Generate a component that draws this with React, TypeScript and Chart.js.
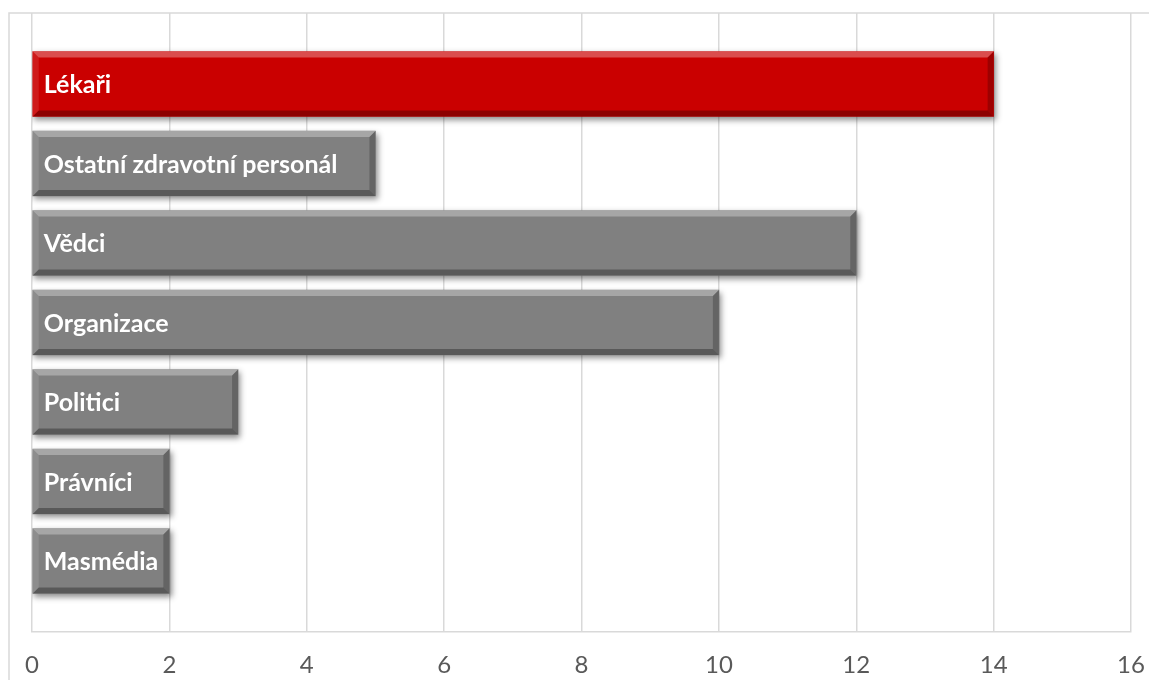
import React, { useEffect, useRef } from "react";
import { Chart, registerables } from "chart.js";

Chart.register(...registerables);

const categories = ["Lékaři", "Ostatní zdravotní personál", "Vědci", "Organizace", "Politici", "Právníci", "Masmédia"];
const values = [14, 5, 12, 10, 3, 2, 2];
const barColors = ["#CA0000", "#808080", "#808080", "#808080", "#808080", "#808080", "#808080"];
const xTicks = [0, 2, 4, 6, 8, 10, 12, 14, 16];

const GRID = "#d9d9d9";

const framePlugin = {
  id: "frame",
  beforeDraw(chart: any) {
    const ctx = chart.ctx;
    ctx.save();
    ctx.strokeStyle = GRID;
    ctx.lineWidth = 1.5;
    ctx.beginPath();
    ctx.moveTo(9, chart.height);
    ctx.lineTo(9, 13);
    ctx.lineTo(chart.width, 13);
    ctx.stroke();
    ctx.restore();
  },
};

const shadowBevelPlugin = {
  id: "bevel",
  beforeDatasetDraw(chart: any) {
    const ctx = chart.ctx;
    ctx.save();
    ctx.shadowColor = "rgba(0,0,0,0.45)";
    ctx.shadowBlur = 6;
    ctx.shadowOffsetX = 2;
    ctx.shadowOffsetY = 3;
  },
  afterDatasetDraw(chart: any, args: any) {
    const ctx = chart.ctx;
    ctx.restore();
    const meta = args.meta;
    ctx.save();
    meta.data.forEach((el: any, i: number) => {
      const p = el.getProps(["x", "y", "base", "height"], true);
      const l = Math.min(p.base, p.x);
      const r = Math.max(p.base, p.x);
      const t = p.y - p.height / 2;
      const b = p.y + p.height / 2;
      const bv = 6;
      const poly = (pts: number[][], fill: string) => {
        ctx.beginPath();
        ctx.moveTo(pts[0][0], pts[0][1]);
        for (let k = 1; k < pts.length; k++) ctx.lineTo(pts[k][0], pts[k][1]);
        ctx.closePath();
        ctx.fillStyle = fill;
        ctx.fill();
      };
      poly([[l, t], [r, t], [r - bv, t + bv], [l + bv, t + bv]], "rgba(255,255,255,0.3)");
      poly([[l, t], [l + bv, t + bv], [l + bv, b - bv], [l, b]], "rgba(255,255,255,0.1)");
      poly([[r, t], [r, b], [r - bv, b - bv], [r - bv, t + bv]], "rgba(0,0,0,0.22)");
      poly([[l, b], [r, b], [r - bv, b - bv], [l + bv, b - bv]], "rgba(0,0,0,0.3)");
      ctx.fillStyle = "#ffffff";
      ctx.font = "bold 25px Lato";
      ctx.textAlign = "left";
      ctx.textBaseline = "middle";
      ctx.fillText(categories[i], l + 11, p.y + 1);
    });
    ctx.restore();
  },
};

export default function App() {
  const ref = useRef<HTMLCanvasElement | null>(null);
  useEffect(() => {
    document.body.style.margin = "0";
    if (!ref.current) return;
    const chart = new Chart(ref.current, {
      type: "bar",
      data: {
        datasets: [
          {
            data: values.map((v, i) => ({ x: v, y: i })) as any,
            backgroundColor: barColors,
            borderWidth: 0,
            barThickness: 65,
          },
        ],
      },
      options: {
        indexAxis: "y",
        animation: false,
        responsive: true,
        maintainAspectRatio: false,
        layout: { padding: { left: 32, right: 18, top: 13, bottom: 0 } },
        plugins: { legend: { display: false }, tooltip: { enabled: false } },
        scales: {
          y: {
            type: "linear",
            min: -0.893,
            max: 6.893,
            reverse: true,
            offset: false,
            display: false,
          },
          x: {
            type: "linear",
            min: xTicks[0],
            max: xTicks[xTicks.length - 1],
            afterBuildTicks: (scale: any) => {
              scale.ticks = xTicks.map((v) => ({ value: v }));
            },
            afterFit: (scale: any) => {
              scale.height = 48;
              scale.paddingLeft = 0;
              scale.paddingRight = 0;
            },
            ticks: {
              color: "#595959",
              font: { family: "Lato", size: 24 },
              padding: 19,
              maxRotation: 0,
            },
            grid: { color: GRID, lineWidth: 1.5, drawTicks: false },
            border: { display: true, color: GRID, width: 1.5 },
          },
        },
      },
      plugins: [framePlugin, shadowBevelPlugin],
    });
    return () => chart.destroy();
  }, []);
  return (
    <div style={{ width: 1149, height: 680, position: "relative" }}>
      <canvas ref={ref} />
    </div>
  );
}
